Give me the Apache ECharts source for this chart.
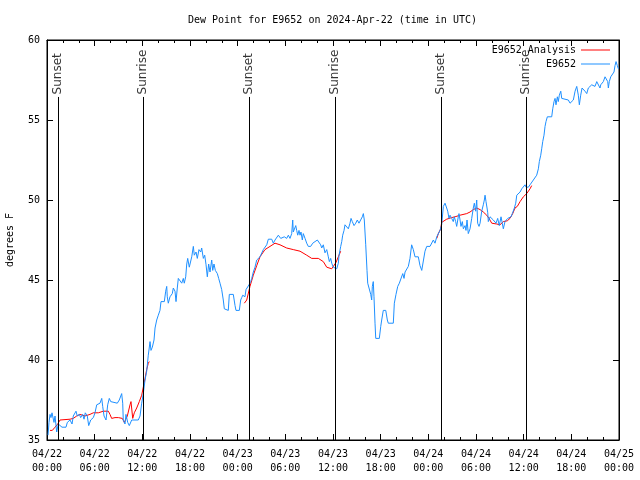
<!DOCTYPE html>
<html><head><meta charset="utf-8">
<script src="https://cdn.jsdelivr.net/npm/echarts@6/dist/echarts.min.js"></script>
<style>html,body{margin:0;padding:0;background:#fff}#c{width:640px;height:480px}</style>
</head><body><div id="c"></div>
<script>
// ---- data (hours since 2024-04-22 00:00 UTC, degrees F) ----
const titleText = 'Dew Point for E9652 on 2024-Apr-22 (time in UTC)';
const seriesNames = ['E9652 Analysis', 'E9652'];
const xTickLabels = ['04/22\n00:00','04/22\n06:00','04/22\n12:00','04/22\n18:00','04/23\n00:00','04/23\n06:00','04/23\n12:00','04/23\n18:00','04/24\n00:00','04/24\n06:00','04/24\n12:00','04/24\n18:00','04/25\n00:00'];
const sunEventHours = [1.38, 12.08, 25.4, 36.25, 49.6, 60.3];
const sunEventNames = ['Sunset', 'Sunrise', 'Sunset', 'Sunrise', 'Sunset', 'Sunrise'];

const obsDay1 = [[0.13,35.3],[0.25,36.1],[0.38,36.6],[0.50,36.4],[0.63,36.7],[0.88,36.1],[1.01,36.5],[1.22,35.5],[1.42,36.0],[1.64,35.9],[1.89,35.8],[2.39,35.8],[2.56,36.1],[2.90,36.25],[3.15,36.0],[3.31,36.5],[3.65,36.8],[3.81,36.5],[4.07,36.6],[4.24,36.4],[4.49,36.6],[4.66,36.3],[4.82,36.7],[5.07,36.5],[5.25,35.9],[5.50,36.25],[5.83,36.4],[6.04,36.7],[6.26,37.2],[6.67,37.3],[6.89,37.6],[7.01,37.1],[7.18,36.5],[7.43,36.25],[7.64,37.2],[7.84,37.6],[8.02,37.4],[8.27,37.3],[8.85,37.3],[9.10,37.5],[9.40,37.9],[9.53,37.3],[9.60,36.25],[9.82,36.0],[9.94,36.6],[10.16,36.1],[10.36,35.9],[10.66,36.25],[11.49,36.25],[11.71,36.5],[11.92,37.3],[12.12,37.9],[12.34,38.75],[12.55,39.3],[12.75,40.3],[12.97,41.15],[13.09,40.6],[13.26,40.8],[13.47,41.25],[13.60,42.0],[13.81,42.5],[14.01,42.8],[14.22,43.1],[14.35,43.65],[14.56,43.75],[14.77,43.65],[14.94,44.3],[15.07,44.6],[15.14,43.95],[15.27,43.55],[15.48,43.95],[15.77,44.15],[15.90,44.5],[16.11,44.3],[16.24,43.65],[16.40,44.5],[16.53,45.1],[16.74,45.15],[16.96,44.8],[17.16,45.1],[17.28,44.8],[17.46,45.2],[17.59,46.0],[17.71,46.35],[17.91,45.8],[18.09,45.7],[18.22,46.45],[18.42,47.1],[18.54,46.55],[18.76,46.75],[18.92,46.35],[19.13,46.9],[19.35,46.75],[19.47,47.0],[19.68,46.35],[19.85,46.55],[20.02,45.95],[20.18,45.2],[20.35,46.0],[20.52,45.5],[20.73,46.25],[20.86,45.6],[21.02,46.0],[21.19,45.6],[21.44,45.4],[21.61,45.1],[21.78,44.8],[21.99,44.4],[22.19,43.75],[22.32,43.2],[22.53,43.1],[22.82,43.1],[22.95,44.1],[23.45,44.1],[23.67,43.4],[23.79,43.1],[24.21,43.1],[24.38,43.75],[24.51,43.9]];
const obsDay2 = [[24.64,44.05],[24.92,43.95],[25.05,44.4],[25.21,44.4],[25.43,44.7],[25.64,44.9],[25.77,45.1],[25.97,45.5],[26.18,45.8],[26.40,46.25],[26.60,46.35],[26.81,46.45],[27.03,46.55],[27.23,46.9],[27.44,46.9],[27.66,47.2],[27.86,47.55],[28.29,47.55],[28.49,47.3],[28.70,47.5],[28.92,47.6],[29.12,47.8],[29.24,47.9],[29.42,47.6],[29.67,47.6],[29.87,47.7],[30.17,47.6],[30.38,47.8],[30.59,47.6],[30.80,47.9],[30.93,48.75],[31.00,48.0],[31.13,47.9],[31.31,48.4],[31.43,48.1],[31.56,47.8],[31.72,48.1],[31.85,47.8],[31.97,48.0],[32.14,47.5],[32.26,47.9],[32.48,47.6],[32.69,47.3],[32.89,47.1],[33.19,47.1],[33.45,47.3],[33.74,47.4],[34.03,47.5],[34.28,47.4],[34.45,47.2],[34.58,47.0],[34.78,47.2],[34.99,46.7],[35.21,46.9],[35.41,46.45],[35.54,46.15],[35.71,46.35],[35.84,46.05],[36.04,45.8],[36.25,45.9],[36.47,45.7],[36.67,46.05],[36.76,46.55],[36.97,47.1],[37.10,47.4],[37.22,47.8],[37.39,48.1],[37.51,48.45],[37.73,48.35],[37.93,48.2],[38.14,48.55],[38.27,48.85],[38.43,48.65],[38.65,48.4],[38.86,48.55],[39.06,48.75],[39.27,48.55],[39.49,48.65],[39.69,48.95],[39.82,49.15],[39.94,48.75],[40.12,47.2],[40.28,45.6],[40.37,44.8],[40.57,44.7],[40.75,44.1],[40.87,43.75],[40.95,44.6],[41.07,44.9],[41.16,43.95],[41.29,42.3],[41.38,41.35],[41.83,41.35],[42.01,42.1],[42.13,42.5],[42.33,43.1],[42.64,43.1],[42.84,42.5],[42.96,42.3],[43.59,42.3],[43.72,43.55],[43.93,44.1],[44.15,44.6],[44.35,44.8],[44.56,44.9],[44.78,45.4],[44.94,45.1],[45.07,45.5],[45.28,45.6],[45.48,45.85],[45.69,46.35],[45.90,47.2],[46.11,46.9],[46.32,46.45],[46.74,46.45],[46.95,45.9],[47.17,45.6],[47.37,45.6],[47.58,46.8],[47.80,47.1],[48.21,47.1],[48.43,47.2],[48.63,47.5],[48.84,47.3],[49.06,47.7],[49.26,47.8],[49.47,48.1],[49.68,48.45],[49.89,49.6]];
const obsDay3 = [[50.10,49.8],[50.31,49.5],[50.44,49.3],[50.60,48.85],[50.73,49.05],[50.94,48.85],[51.14,48.65],[51.27,48.95],[51.44,48.65],[51.57,48.35],[51.77,48.95],[51.86,49.15],[51.99,48.75],[52.11,48.35],[52.28,48.65],[52.41,48.2],[52.62,48.4],[52.74,48.1],[52.87,48.75],[53.03,47.9],[53.25,48.2],[53.46,48.85],[53.66,49.5],[53.79,49.8],[53.96,49.3],[54.09,50.0],[54.21,48.55],[54.38,48.35],[54.51,48.55],[54.72,49.3],[54.92,49.7],[55.05,50.0],[55.14,50.3],[55.26,49.9],[55.39,49.5],[55.48,49.2],[55.55,48.65],[55.77,48.95],[55.98,48.85],[56.18,48.75],[56.40,48.85],[56.52,48.55],[56.73,48.85],[56.93,48.4],[57.15,48.95],[57.31,48.55],[57.44,48.2],[57.65,48.65],[57.87,48.55],[57.99,48.85],[58.16,48.85],[58.41,48.95],[58.57,49.15],[58.83,49.5],[59.00,49.8],[59.13,50.3],[59.33,50.4],[59.55,50.5],[59.76,50.7],[59.96,50.8],[60.17,50.95],[60.30,50.8],[60.46,50.7],[60.59,50.8],[60.80,50.95],[61.01,51.05],[61.22,51.25],[61.43,51.35],[61.64,51.55],[61.85,51.95],[61.97,52.4],[62.15,52.8],[62.27,53.2],[62.40,53.65],[62.56,54.05],[62.69,54.6],[62.81,54.9],[62.98,55.2],[63.53,55.2],[63.66,55.7],[63.82,56.15],[63.95,56.35],[64.07,55.95],[64.24,56.45],[64.36,56.15],[64.49,56.55],[64.67,56.8],[64.79,56.35],[65.00,56.25],[65.62,56.25],[65.84,56.05],[66.05,55.95],[66.25,56.25],[66.47,56.8],[66.68,57.1],[66.88,56.55],[67.01,55.95],[67.18,56.55],[67.35,57.0],[67.51,57.1],[67.72,56.8],[67.94,56.65],[68.14,57.0],[68.35,57.1],[68.57,57.2],[68.77,57.3],[68.98,57.1],[69.20,57.4],[69.40,57.3],[69.61,57.0],[69.70,57.2],[69.83,57.1],[70.03,57.4],[70.24,57.7],[70.45,57.8],[70.58,57.4],[70.66,57.0],[70.78,57.4],[70.96,57.7],[71.09,57.8],[71.21,57.6],[71.37,58.0],[71.50,58.4],[71.63,58.65],[71.79,58.4],[71.92,58.2],[72.00,58.2]];

const anaDay1 = [[0.38,35.6],[0.67,35.6],[1.01,35.8],[1.35,36.0],[1.64,36.25],[1.85,36.3],[2.90,36.3],[3.31,36.35],[3.74,36.5],[4.15,36.6],[4.78,36.5],[5.41,36.6],[5.83,36.7],[6.46,36.7],[7.09,36.8],[7.72,36.8],[7.93,36.6],[8.14,36.35],[8.56,36.4],[8.98,36.4],[9.19,36.5],[9.48,36.35],[9.73,36.1],[9.82,36.0],[10.11,36.5],[10.45,37.2],[10.57,37.4],[10.79,36.35],[10.99,36.7],[11.29,37.0],[11.62,37.4],[11.92,37.8],[12.12,38.3],[12.34,38.85],[12.55,39.4],[12.75,39.8],[12.88,39.9]];
const anaDay2 = [[24.84,43.55],[25.14,43.75],[25.55,44.6],[25.97,45.3],[26.40,45.9],[26.81,46.45],[27.44,46.9],[28.07,47.1],[28.70,47.3],[28.92,47.35],[29.33,47.2],[30.17,47.0],[31.00,46.9],[31.85,46.8],[32.69,46.55],[33.32,46.35],[34.15,46.35],[34.78,46.15],[35.21,45.8],[35.84,45.7],[36.04,45.7],[36.38,46.1],[36.67,46.45],[36.97,46.8]];
const anaDay3 = [[49.06,47.6],[49.26,47.9],[49.56,48.2],[49.68,48.6],[49.89,48.7],[50.31,48.8],[50.94,48.9],[51.36,48.95],[51.99,49.05],[52.83,49.15],[53.25,49.25],[53.66,49.4],[54.09,49.5],[54.51,49.4],[54.92,49.25],[55.35,49.05],[55.64,48.85],[55.98,48.55],[56.61,48.5],[57.02,48.45],[57.44,48.65],[57.94,48.7],[58.28,48.85],[58.62,49.15],[58.91,49.5],[59.20,49.6],[59.55,49.9],[59.96,50.2],[60.38,50.4],[60.80,50.7],[61.01,50.9]];

// ---- chart ----
const mono = 'DejaVu Sans Mono';
const gap = h => [[h, '-']];
const obsData = obsDay1.concat(obsDay2, obsDay3);
const anaData = anaDay1.concat(gap(18), anaDay2, gap(43), anaDay3);

const txt = {fontFamily: mono, fontSize: 10, color: '#000'};
const xBase = {
  type: 'value', min: 0, max: 72, interval: 6,
  axisLine: {show: true, onZero: false, lineStyle: {color: '#000', width: 1}},
  axisTick: {show: true, inside: true, length: 6, lineStyle: {color: '#000', width: 1}},
  minorTick: {show: true, splitNumber: 3, length: 3, lineStyle: {color: '#000', width: 1}},
  splitLine: {show: false}, minorSplitLine: {show: false}
};
const yBase = {
  type: 'value', min: 35, max: 60, interval: 5,
  axisLine: {show: true, onZero: false, lineStyle: {color: '#000', width: 1}},
  axisTick: {show: true, inside: true, length: 6, lineStyle: {color: '#000', width: 1}},
  splitLine: {show: false}
};

const chart = echarts.init(document.getElementById('c'), null, {renderer: 'canvas'});
chart.setOption({
  animation: false,
  backgroundColor: '#fff',
  textStyle: {fontFamily: mono, fontSize: 10, color: '#000'},
  title: {text: titleText, left: 188, top: 15, padding: 0,
    textStyle: Object.assign({fontWeight: 'normal'}, txt)},
  legend: {
    data: seriesNames, orient: 'vertical', right: 30, top: 44, align: 'right',
    padding: 0, itemGap: 2, itemWidth: 29, itemHeight: 1, icon: 'rect',
    textStyle: Object.assign({lineHeight: 12}, txt)
  },
  grid: {left: 47, right: 21, top: 40, bottom: 40, outerBoundsMode: 'none', containLabel: false,
    show: true, borderColor: '#000', borderWidth: 1, backgroundColor: 'transparent'},
  xAxis: [
    Object.assign({}, xBase, {position: 'bottom',
      axisLabel: Object.assign({formatter: v => xTickLabels[Math.round(v / 6)], lineHeight: 14, margin: 7}, txt)}),
    Object.assign({}, xBase, {position: 'top', axisLabel: {show: false}})
  ],
  yAxis: [
    Object.assign({}, yBase, {position: 'left', name: 'degrees F', nameLocation: 'middle', nameGap: 32, nameRotate: 90,
      nameTextStyle: txt, axisLabel: Object.assign({margin: 7}, txt)}),
    Object.assign({}, yBase, {position: 'right', axisLabel: {show: false}})
  ],
  series: [
    {name: seriesNames[0], type: 'line', data: anaData, showSymbol: false, symbol: 'none',
      lineStyle: {color: '#ff0000', width: 1}, itemStyle: {color: '#ff0000'}, connectNulls: false, z: 2},
    {name: seriesNames[1], type: 'line', data: obsData, showSymbol: false, symbol: 'none',
      lineStyle: {color: '#1e90ff', width: 1}, itemStyle: {color: '#1e90ff'}, z: 3},
    {name: 'sun', type: 'scatter', silent: true, symbolSize: 1,
      itemStyle: {color: 'transparent'},
      data: sunEventHours.map((h, i) => [h, 56.6, sunEventNames[i]]),
      label: {show: true, formatter: p => p.data[2], rotate: 90, position: 'inside', align: 'left', verticalAlign: 'middle',
        fontFamily: 'DejaVu Sans', fontSize: 12, color: '#000'},
      markLine: {silent: true, symbol: ['none', 'none'], label: {show: false},
        lineStyle: {color: '#000', width: 1, type: 'solid'},
        data: sunEventHours.map(h => [{coord: [h, 35]}, {coord: [h, 56.44]}])},
      z: 4}
  ]
});
</script></body></html>
